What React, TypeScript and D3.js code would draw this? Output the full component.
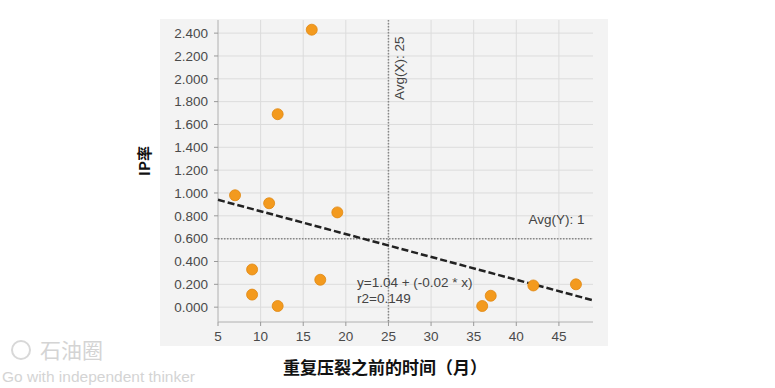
import React from 'react';
import * as d3 from 'd3';

// scatter points
const monthsBefore = [7, 9, 9, 11, 12, 12, 16, 17, 19, 36, 37, 42, 47];
const ipRate = [0.98, 0.33, 0.11, 0.91, 1.69, 0.01, 2.43, 0.24, 0.83, 0.01, 0.10, 0.19, 0.20];
const xTicks = [5, 10, 15, 20, 25, 30, 35, 40, 45];
const yTicks = [0, 0.2, 0.4, 0.6, 0.8, 1.0, 1.2, 1.4, 1.6, 1.8, 2.0, 2.2, 2.4];
const fitCoef = [1.04, -0.02];
const avgX = 25;
const avgY = 0.6;

export default function App() {
  const W = 775;
  const H = 388;
  const left = 218, right = 593, top = 20, bottom = 322;

  const x = d3.scaleLinear().domain([5, 49]).range([left, right]);
  const y = d3.scaleLinear().domain([-0.13, 2.515]).range([bottom, top]);

  const fit = d3.line<number>()
    .x(d => x(d))
    .y(d => y(fitCoef[0] + fitCoef[1] * d));

  const tickFont = { fontFamily: 'Arial, "Liberation Sans", sans-serif', fontSize: 13.5, fill: '#4a4a4a' };

  return (
    <svg width={W} height={H} style={{ position: 'absolute', left: 0, top: 0 }}>
      <rect x={0} y={0} width={W} height={H} fill="#fff" />
      {/* panel */}
      <rect x={160} y={19} width={448} height={327} fill="#f3f3f3" />

      {/* grid */}
      {yTicks.map(t => (
        <line key={'gy' + t} x1={left} x2={right} y1={y(t)} y2={y(t)} stroke="#dcdcdc" strokeWidth={1} />
      ))}
      {xTicks.filter(t => t > 5).map(t => (
        <line key={'gx' + t} x1={x(t)} x2={x(t)} y1={top} y2={bottom} stroke="#dcdcdc" strokeWidth={1} />
      ))}

      {/* axes */}
      <line x1={left} x2={left} y1={top} y2={bottom} stroke="#b0b0b0" />
      <line x1={left} x2={right} y1={bottom} y2={bottom} stroke="#b0b0b0" />
      {yTicks.map(t => (
        <g key={'ty' + t}>
          <line x1={left - 4} x2={left} y1={y(t)} y2={y(t)} stroke="#999" />
          <text x={left - 10} y={y(t)} dy="0.35em" textAnchor="end" {...tickFont}>{d3.format('.3f')(t)}</text>
        </g>
      ))}
      {xTicks.map(t => (
        <g key={'tx' + t}>
          <line x1={x(t)} x2={x(t)} y1={bottom} y2={bottom + 4} stroke="#999" />
          <text x={x(t)} y={bottom + 19} textAnchor="middle" {...tickFont}>{t}</text>
        </g>
      ))}

      {/* average lines */}
      <line x1={x(avgX)} x2={x(avgX)} y1={top} y2={bottom} stroke="#888" strokeWidth={1.5} strokeDasharray="1.5,1.5" />
      <line x1={left} x2={right} y1={y(avgY)} y2={y(avgY)} stroke="#888" strokeWidth={1.5} strokeDasharray="1.5,1.5" />
      <text transform={`translate(${x(avgX) + 16},${top + 80}) rotate(-90)`} {...tickFont} fill="#444">Avg(X): 25</text>
      <text x={x(48)} y={y(avgY) - 15} textAnchor="end" {...tickFont} fill="#444">Avg(Y): 1</text>

      {/* trend line */}
      <path d={fit([5, 49]) || ''} fill="none" stroke="#222" strokeWidth={2.5} strokeDasharray="7,3" />

      {/* points */}
      {monthsBefore.map((m, i) => (
        <circle key={i} cx={x(m)} cy={y(ipRate[i])} r={5.5} fill="#f39a1e" stroke="#e0860f" strokeWidth={0.8} />
      ))}

      <text x={357} y={y(0.18)} {...tickFont} fill="#444">y=1.04 + (-0.02 * x)</text>
      <text x={357} y={y(0.04)} {...tickFont} fill="#444">r2=0.149</text>

      {/* axis titles */}
      <text transform={`translate(150,${(top + bottom) / 2 - 10}) rotate(-90)`} textAnchor="middle"
        fontFamily='"Noto Sans CJK SC", sans-serif' fontWeight="bold" fontSize={15} fill="#111">IP率</text>
      <text x={385} y={374} textAnchor="middle"
        fontFamily='"Noto Sans CJK SC", sans-serif' fontWeight="bold" fontSize={17} fill="#111">重复压裂之前的时间（月）</text>

      {/* watermark */}
      <circle cx={21} cy={350} r={9} fill="none" stroke="#d8d8d8" strokeWidth={2} />
      <text x={40} y={358} fontFamily='"Noto Sans CJK SC", sans-serif' fontSize={21} fill="#d4d4d4">石油圈</text>
      <text x={2} y={382} fontFamily='"Liberation Sans", Arial, sans-serif' fontSize={15.5} fill="#d4d4d4">Go with independent thinker</text>
    </svg>
  );
}
